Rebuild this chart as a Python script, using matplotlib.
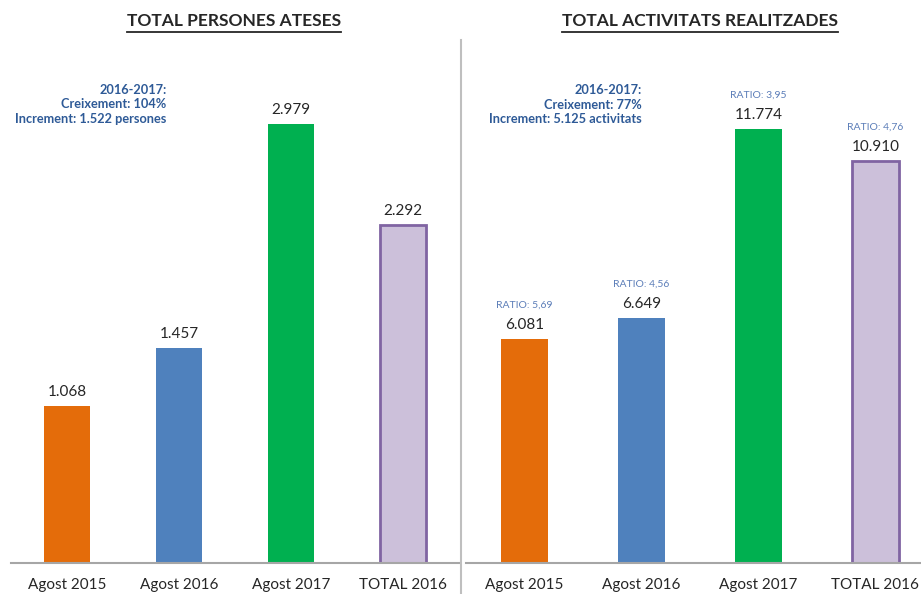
import numpy as np
import matplotlib.pyplot as plt
from matplotlib.lines import Line2D

plt.rcParams['font.family'] = ['Lato', 'DejaVu Sans']

categories = ['Agost 2015', 'Agost 2016', 'Agost 2017', 'TOTAL 2016']
persones = [1068, 1457, 2979, 2292]
activitats = [6081, 6649, 11774, 10910]
ratios = ['RATIO: 5,69', 'RATIO: 4,56', 'RATIO: 3,95', 'RATIO: 4,76']
labels_persones = ['1.068', '1.457', '2.979', '2.292']
labels_activitats = ['6.081', '6.649', '11.774', '10.910']
note_persones = '2016-2017:\nCreixement: 104%\nIncrement: 1.522 persones'
note_activitats = '2016-2017:\nCreixement: 77%\nIncrement: 5.125 activitats'

fill = ['#E46C0A', '#4F81BD', '#00B050', '#CCC0DA']
edge = ['#E46C0A', '#4F81BD', '#00B050', '#8064A2']
note_col = '#2E5A97'
ratio_col = '#5B7DB8'
W, H = 921, 594

fig = plt.figure(figsize=(W / 100, H / 100), dpi=100)


def px(x0, x1, y0, y1):
    # pixel box (from top-left) -> figure fraction
    return [x0 / W, 1 - y1 / H, (x1 - x0) / W, (y1 - y0) / H]


def panel(ax, values, labels, ymax, xmax, width):
    x = np.arange(len(values))
    for i in x:
        ax.bar(i, values[i], width=width, color=fill[i], edgecolor=edge[i],
               linewidth=2 if i == 3 else 0)
        ax.annotate(labels[i], (i, values[i]), xytext=(0, 5), textcoords='offset points',
                    ha='center', va='bottom', fontsize=11, color='#262626')
    ax.set_xlim(-0.5, xmax)
    ax.set_ylim(0, ymax)
    ax.set_xticks(x)
    ax.set_xticklabels(categories, fontsize=11, color='#262626')
    ax.tick_params(axis='x', length=0, pad=11)
    ax.set_yticks([])
    for s in ['top', 'left', 'right']:
        ax.spines[s].set_visible(False)
    ax.spines['bottom'].set_color('#A6A6A6')
    ax.spines['bottom'].set_linewidth(1.5)
    ax.patch.set_alpha(0)


ax1 = fig.add_axes(px(11, 459, 40, 563))
panel(ax1, persones, labels_persones, 523 / 0.1474, 3.5, 0.41)
ax1.text(0.89, 3250, note_persones, ha='right', va='top', fontsize=9.2, fontweight='bold',
         color=note_col, linespacing=1.25)

ax2 = fig.add_axes(px(466, 921, 40, 563))
panel(ax2, activitats, labels_activitats, 523 / 0.03686, 3.39, 0.40)
ax2.text(1.0, 12990, note_activitats, ha='right', va='top', fontsize=9.2, fontweight='bold',
         color=note_col, linespacing=1.25)
for i, v in enumerate(activitats):
    ax2.annotate(ratios[i], (i, v), xytext=(0, 21), textcoords='offset points',
                 ha='center', va='bottom', fontsize=7.5, color=ratio_col)

# vertical separator
fig.add_artist(Line2D([461 / W, 461 / W], [0, 1 - 40 / H], color='#BFBFBF', linewidth=1.5))

# underlined titles
titles = [('TOTAL PERSONES ATESES', 234), ('TOTAL ACTIVITATS REALITZADES', 700)]
fig.canvas.draw()
rend = fig.canvas.get_renderer()
for t, cx in titles:
    txt = fig.text(cx / W, 1 - 21 / H, t, ha='center', va='center', fontsize=12.5,
                   fontweight='bold', color='#262626')
    bb = txt.get_window_extent(rend)
    yl = 1 - 32 / H
    fig.add_artist(Line2D([bb.x0 / W, bb.x1 / W], [yl, yl], color='#262626', linewidth=1.3))

fig.savefig('out.png', dpi=100)
